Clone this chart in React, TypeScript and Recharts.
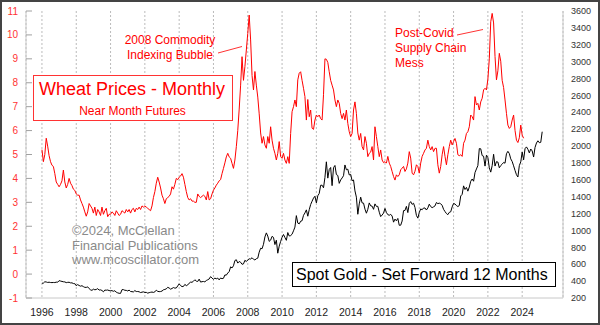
import { LineChart, Line, XAxis, YAxis, CartesianGrid } from 'recharts'

const startYear = 1996
const yearTicks = [1996, 1998, 2000, 2002, 2004, 2006, 2008, 2010, 2012, 2014, 2016, 2018, 2020, 2022, 2024]
const wheatTicks = [-1, 0, 1, 2, 3, 4, 5, 6, 7, 8, 9, 10, 11]
const goldTicks = [200, 400, 600, 800, 1000, 1200, 1400, 1600, 1800, 2000, 2200, 2400, 2600, 2800, 3000, 3200, 3400, 3600]

// wheat, near month futures, $/bu, one value per month from Jan 1996
const wheat = [
  5.2, 4.7, 5.0, 5.68, 5.35, 4.95, 4.7, 4.55, 4.5, 4.2, 3.85, 3.75, // 1996
  3.65, 3.75, 3.9, 4.35, 3.85, 3.6, 3.75, 4.0, 3.8, 3.7, 3.55, 3.5,
  3.35, 3.3, 3.3, 3.1, 2.95, 2.8, 2.6, 2.42, 2.6, 2.95, 2.85, 2.75,
  2.55, 2.8, 2.45, 2.7, 2.6, 2.45, 2.8, 2.5, 2.65, 2.75, 2.4, 2.5,
  2.5, 2.6, 2.55, 2.45, 2.65, 2.55, 2.45, 2.5, 2.65, 2.6, 2.55, 2.7, // 2000
  2.6, 2.7, 2.55, 2.7, 2.75, 2.6, 2.75, 2.7, 2.8, 2.7, 2.85, 2.8,
  2.85, 2.8, 2.75, 2.7, 2.65, 2.85, 3.2, 3.45, 3.8, 4.05, 3.85, 3.6,
  3.3, 3.15, 2.95, 3.15, 3.2, 3.25, 3.35, 3.65, 3.55, 3.75, 4.0, 3.95,
  4.05, 4.1, 4.2, 4.05, 3.75, 3.45, 3.2, 3.1, 3.15, 3.05, 3.05, 3.0,
  3.0, 3.35, 3.25, 3.2, 3.25, 3.3, 3.25, 3.1, 3.45, 3.1, 3.15, 3.35, // 2005
  3.51, 3.6, 3.72, 3.8, 3.9, 3.95, 4.2, 4.42, 4.65, 4.9, 5.05, 4.9,
  4.84, 4.63, 4.42, 4.77, 5.33, 6.0, 6.9, 7.9, 9.09, 8.1, 8.67, 9.37,
  10.06, 10.83, 9.79, 8.3, 7.7, 8.47, 7.9, 7.4, 6.7, 5.9, 5.47, 5.75,
  5.4, 5.26, 5.75, 5.47, 6.16, 5.6, 5.26, 5.05, 4.77, 5.05, 5.54, 4.91,
  4.84, 5.05, 4.77, 4.63, 4.91, 4.63, 5.88, 6.79, 7.0, 7.28, 7.0, 8.12, // 2010
  8.4, 8.46, 8.1, 7.77, 7.42, 6.44, 7.3, 6.58, 6.86, 6.1, 6.05, 6.44,
  6.65, 6.58, 6.65, 6.5, 6.44, 7.5, 9.0, 8.98, 8.85, 8.46, 8.1, 7.9,
  7.7, 7.28, 7.0, 7.28, 7.14, 6.72, 6.5, 6.72, 6.44, 6.86, 6.3, 5.95,
  5.75, 5.88, 6.86, 7.2, 6.72, 5.9, 5.6, 5.88, 5.33, 5.19, 5.75, 5.47,
  4.91, 5.05, 5.1, 5.33, 4.77, 6.16, 5.75, 5.33, 4.91, 5.19, 4.77, 4.66, // 2015
  4.7, 4.64, 4.92, 4.64, 4.5, 4.29, 4.08, 3.93, 4.15, 4.08, 4.15, 4.36,
  4.43, 4.5, 4.29, 4.4, 4.64, 5.12, 4.85, 4.22, 4.15, 4.3, 4.57, 4.5,
  4.22, 4.64, 4.92, 5.05, 5.19, 5.26, 5.6, 5.33, 5.19, 5.33, 5.12, 5.26,
  5.26, 4.57, 4.22, 4.5, 4.99, 5.33, 4.92, 4.57, 4.99, 5.33, 5.6, 5.4,
  5.54, 5.67, 5.47, 4.99, 4.95, 4.99, 4.92, 5.47, 5.6, 5.88, 5.95, 6.16, // 2020
  6.65, 6.58, 6.44, 7.42, 7.07, 7.14, 6.86, 7.2, 7.35, 7.7, 7.77, 7.7,
  8.15, 9.0, 10.55, 10.9, 10.5, 9.1, 8.12, 8.5, 9.23, 8.9, 8.1, 7.8,
  7.28, 6.72, 6.23, 6.09, 6.16, 6.44, 6.65, 6.0, 5.6, 5.5, 5.7, 6.23,
  5.81, 5.68, // 2024
]

// spot gold month-end, $/oz, from Jan 1995, drawn 12 months forward
const gold = [
  374.9, 376.4, 392.0, 389.8, 384.3, 387.1, 383.4, 382.4, 384.0, 382.7, 387.8, 387.0, // 1995
  405.6, 400.7, 396.4, 392.3, 390.6, 382.0, 385.3, 386.5, 379.0, 379.5, 371.3, 369.3,
  345.5, 358.6, 348.2, 340.2, 345.6, 334.6, 326.4, 325.4, 332.1, 311.4, 296.8, 290.2,
  304.9, 297.4, 301.0, 310.7, 293.6, 296.3, 288.9, 273.4, 293.9, 292.3, 294.7, 287.8,
  287.1, 287.3, 279.5, 286.6, 268.6, 261.0, 255.6, 254.8, 299.0, 299.1, 291.4, 290.3,
  283.3, 293.7, 276.8, 275.1, 272.3, 288.2, 276.8, 277.0, 273.7, 264.5, 269.1, 272.7, // 2000
  264.5, 266.7, 257.7, 263.2, 267.5, 270.6, 265.9, 273.0, 293.1, 278.8, 275.5, 276.5,
  282.3, 296.9, 301.4, 308.2, 326.6, 318.5, 304.7, 312.8, 323.7, 316.9, 319.1, 342.8,
  367.5, 347.5, 334.9, 336.8, 361.4, 346.0, 354.8, 375.6, 388.0, 386.3, 398.4, 416.3,
  399.8, 395.9, 423.7, 388.5, 393.3, 395.8, 391.4, 407.3, 415.7, 425.6, 453.4, 435.6,
  422.2, 435.5, 427.5, 435.7, 414.5, 437.1, 429.0, 433.3, 473.3, 470.8, 495.7, 513.0, // 2005
  568.8, 556.0, 582.0, 644.0, 653.0, 613.5, 632.5, 623.5, 599.3, 603.8, 646.7, 632.0,
  650.5, 664.2, 661.8, 677.0, 659.1, 650.5, 665.5, 672.0, 743.0, 789.5, 783.5, 836.5,
  923.3, 971.5, 933.5, 871.0, 885.8, 930.3, 918.0, 833.0, 884.5, 730.8, 814.5, 869.8,
  919.5, 952.0, 916.5, 883.3, 975.5, 934.5, 939.0, 955.5, 995.8, 1040.0, 1175.8, 1087.5,
  1078.5, 1109.5, 1115.5, 1179.3, 1207.5, 1244.0, 1169.0, 1246.0, 1307.0, 1346.8, 1383.5, 1405.5, // 2010
  1327.0, 1411.0, 1439.0, 1535.5, 1536.5, 1505.5, 1628.5, 1813.5, 1620.0, 1722.0, 1746.0, 1531.0,
  1744.0, 1770.0, 1662.5, 1651.3, 1558.0, 1598.5, 1622.0, 1648.5, 1776.0, 1719.0, 1726.0, 1657.5,
  1664.8, 1588.5, 1598.3, 1469.0, 1394.5, 1192.0, 1314.5, 1394.8, 1326.5, 1324.0, 1253.0, 1204.5,
  1251.0, 1326.5, 1291.8, 1288.5, 1250.5, 1315.0, 1285.3, 1285.8, 1216.5, 1164.3, 1182.8, 1206.0,
  1260.3, 1214.0, 1187.0, 1180.3, 1191.4, 1171.0, 1098.4, 1135.0, 1114.0, 1142.4, 1061.1, 1062.3, // 2015
  1111.8, 1234.9, 1237.0, 1285.7, 1212.1, 1320.8, 1342.0, 1309.3, 1322.5, 1272.0, 1178.1, 1145.9,
  1212.8, 1255.6, 1245.3, 1266.5, 1266.2, 1242.3, 1267.6, 1311.8, 1283.1, 1270.2, 1280.2, 1291.0,
  1331.3, 1317.9, 1323.9, 1315.1, 1298.5, 1250.5, 1224.0, 1200.5, 1187.3, 1214.9, 1220.7, 1279.0,
  1319.8, 1313.3, 1295.4, 1283.2, 1295.6, 1409.0, 1427.6, 1528.4, 1485.3, 1510.8, 1465.6, 1514.8,
  1582.9, 1609.9, 1583.4, 1686.2, 1728.7, 1768.1, 1970.0, 1967.9, 1886.9, 1879.9, 1762.6, 1891.1, // 2020
  1863.0, 1743.3, 1691.1, 1768.0, 1902.7, 1763.2, 1814.9, 1810.6, 1742.8, 1769.1, 1785.3, 1805.9,
  1797.0, 1908.5, 1937.4, 1911.3, 1848.4, 1817.0, 1765.9, 1711.0, 1660.6, 1633.6, 1768.1, 1812.4,
  1928.4, 1836.7, 1969.0, 1990.0, 1961.9, 1919.3, 1965.1, 1942.3, 1870.1, 1983.9, 2036.4, 2062.4,
  2039.5, 2044.3, 2170.0, // 2024
]

const data = gold.map((g, i) => ({
  t: startYear + i / 12,
  gold: g,
  wheat: i < wheat.length ? wheat[i] : null,
}))

const xDomain = [1995.07, 2026.38]
const font = '"Liberation Sans", Arial, sans-serif'

const WheatTick = (props: any) => {
  const { x, y, payload } = props
  return (
    <g>
      <line x1={x + 8} x2={x + 14} y1={y} y2={y} stroke="#a0a0a0" />
      <text x={x} y={y} dy={3.5} textAnchor="end" fill="#ff3333" fontSize={10}>
        {payload.value}
      </text>
    </g>
  )
}

export default function App() {
  return (
    <div style={{ position: 'absolute', left: 0, top: 0, width: 600, height: 325, background: '#fff', fontFamily: font }}>
      <LineChart width={600} height={325} data={data} margin={{ top: 11, right: 0, bottom: 0, left: 0 }}>
        <CartesianGrid yAxisId="left" horizontal={false} stroke="#bbbbbb" strokeDasharray="2 2" />
        <XAxis
          dataKey="t"
          type="number"
          domain={xDomain}
          ticks={yearTicks}
          interval={0}
          allowDataOverflow
          height={27}
          tickLine={false}
          tickMargin={5}
          tick={{ fill: '#222', fontSize: 10.5 }}
          axisLine={{ stroke: '#c8c8c8' }}
        />
        <XAxis
          xAxisId="top"
          orientation="top"
          dataKey="t"
          type="number"
          domain={xDomain}
          allowDataOverflow
          height={0}
          tick={false}
          tickLine={false}
          axisLine={{ stroke: '#c8c8c8' }}
        />
        <YAxis
          yAxisId="left"
          orientation="left"
          width={26}
          domain={[-1, 11]}
          ticks={wheatTicks}
          interval={0}
          allowDataOverflow
          tickLine={false}
          tick={<WheatTick />}
          axisLine={{ stroke: '#c8c8c8' }}
        />
        <YAxis
          yAxisId="right"
          orientation="right"
          width={37}
          domain={[200, 3600]}
          ticks={goldTicks}
          interval={0}
          allowDataOverflow
          tickLine={false}
          tick={{ fill: '#333', fontSize: 9 }}
          axisLine={{ stroke: '#c8c8c8' }}
        />
        <Line yAxisId="right" type="linear" dataKey="gold" stroke="#000" strokeWidth={1} dot={false} activeDot={false} isAnimationActive={false} />
        <Line yAxisId="left" type="linear" dataKey="wheat" stroke="#ff0000" strokeWidth={1} dot={false} activeDot={false} isAnimationActive={false} />
      </LineChart>

      <svg width={600} height={325} style={{ position: 'absolute', left: 0, top: 0, pointerEvents: 'none', fontFamily: font }}>
        <rect x={33.5} y={75.5} width={199} height={45} fill="#fff" stroke="#ff3333" />
        <text x={132} y={95} textAnchor="middle" fill="#ff0000" fontSize={18}>Wheat Prices - Monthly</text>
        <text x={132.5} y={115} textAnchor="middle" fill="#ff0000" fontSize={12}>Near Month Futures</text>

        <rect x={292.5} y={262.5} width={263} height={24} fill="#fff" stroke="#000" />
        <text x={296} y={280} fill="#000" fontSize={16}>Spot Gold - Set Forward 12 Months</text>

        <text x={72} y={235} fill="#8a8a8a" fontSize={13}>©2024, McClellan</text>
        <text x={72} y={249.5} fill="#8a8a8a" fontSize={13}>Financial Publications</text>
        <text x={72} y={264} fill="#8a8a8a" fontSize={13}>www.mcoscillator.com</text>

        <text x={170} y={44} textAnchor="middle" fill="#ff0000" fontSize={12}>2008 Commodity</text>
        <text x={170} y={58.5} textAnchor="middle" fill="#ff0000" fontSize={12}>Indexing Bubble</text>
        <line x1={218} y1={53} x2={242} y2={46.5} stroke="#ff3333" />

        <text x={395} y={36.7} fill="#ff0000" fontSize={12}>Post-Covid</text>
        <text x={395} y={51.5} fill="#ff0000" fontSize={12}>Supply Chain</text>
        <text x={395} y={66.5} fill="#ff0000" fontSize={12}>Mess</text>
        <line x1={457} y1={35} x2={483} y2={29.5} stroke="#ff3333" />
      </svg>

      <div style={{ position: 'absolute', inset: 0, border: '2px solid #444', boxSizing: 'border-box', pointerEvents: 'none' }} />
    </div>
  )
}
